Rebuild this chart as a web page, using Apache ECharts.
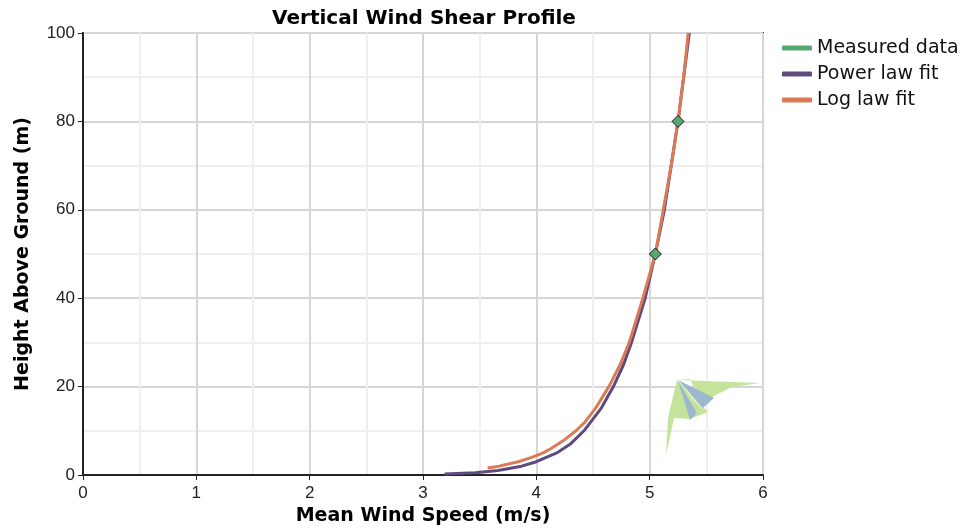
<!DOCTYPE html>
<html>
<head>
<meta charset="utf-8">
<script src="https://cdn.jsdelivr.net/npm/echarts@6/dist/echarts.min.js"></script>
<style>
html, body { margin: 0; padding: 0; background: #fff; }
#chart1 { width: 962px; height: 528px; }
</style>
</head>
<body>
<div id="chart1"></div>
<script>
// speeds in m/s, heights in m
var measuredSpeed = [5.05, 5.25];
var measuredHeight = [50, 80];

var powerHeight = [0.2, 0.5, 1, 2, 3, 5, 7, 10, 15, 20, 25, 30, 40, 50, 60, 70, 80, 90, 100];
var powerSpeed = [3.19, 3.46, 3.66, 3.87, 4.00, 4.18, 4.30, 4.42, 4.57, 4.68, 4.77, 4.84, 4.96, 5.05, 5.13, 5.19, 5.25, 5.30, 5.35];

var logHeight = [1.6, 2, 3, 4, 5, 6, 8, 10, 12, 15, 20, 25, 30, 40, 50, 60, 70, 80, 90, 100];
var logSpeed = [3.57, 3.67, 3.84, 3.96, 4.06, 4.13, 4.25, 4.35, 4.43, 4.52, 4.64, 4.74, 4.82, 4.94, 5.05, 5.12, 5.19, 5.25, 5.30, 5.34];

var seriesNames = ["Measured data", "Power law fit", "Log law fit"];
var seriesColors = ["#55a86f", "#5e4a7c", "#dd7a56"];

//拼成 [x, y] 点
function toPoints(xs, ys) {
	var arr = [];
	for (let i = 0; i < xs.length; i++) {
		arr.push([xs[i], ys[i]]);
	}
	return arr;
}

var chart = echarts.init(document.getElementById("chart1"));

var axisText = { fontFamily: "Liberation Sans", fontSize: 17, color: "#222" };
var nameText = { fontFamily: "DejaVu Sans", fontWeight: "bold", fontSize: 19, color: "#000" };

//图例：全部画成短横线，不带边框
var legendData = [];
for (let i = 0; i < seriesNames.length; i++) {
	legendData.push({
		name: seriesNames[i],
		itemStyle: { color: seriesColors[i], borderWidth: 0 }
	});
}

var option = {
	animation: false,
	color: seriesColors,
	title: {
		text: "Vertical Wind Shear Profile",
		left: 419,
		textAlign: "center",
		top: 4,
		textStyle: { fontFamily: "DejaVu Sans", fontWeight: "bold", fontSize: 20, color: "#000" }
	},
	legend: {
		orient: "vertical",
		left: 777,
		top: 33,
		icon: "roundRect",
		itemWidth: 30,
		itemHeight: 5,
		itemGap: 6,
		data: legendData,
		textStyle: { fontFamily: "DejaVu Sans", fontSize: 19, lineHeight: 20, color: "#111" }
	},
	grid: {
		left: 83,
		right: 199,
		top: 33,
		bottom: 53,
		outerBoundsMode: "none",
		show: true,
		borderColor: "#222",
		borderWidth: 2
	},
	xAxis: {
		type: "value",
		min: 0,
		max: 6,
		interval: 1,
		name: "Mean Wind Speed (m/s)",
		nameLocation: "middle",
		nameGap: 31,
		nameTextStyle: nameText,
		axisLine: { lineStyle: { color: "#222", width: 2 } },
		axisTick: { length: 5, lineStyle: { color: "#222" } },
		axisLabel: Object.assign({ margin: 10 }, axisText),
		splitLine: { lineStyle: { color: "#d6d6d6", width: 2 } },
		minorTick: { show: false, splitNumber: 2 },
		minorSplitLine: { show: true, lineStyle: { color: "#efefef", width: 2 } }
	},
	yAxis: {
		type: "value",
		min: 0,
		max: 100,
		interval: 20,
		name: "Height Above Ground (m)",
		nameLocation: "middle",
		nameGap: 50,
		nameTextStyle: nameText,
		axisLine: { lineStyle: { color: "#222", width: 2 } },
		axisTick: { length: 5, lineStyle: { color: "#222" } },
		axisLabel: Object.assign({ margin: 8 }, axisText),
		splitLine: { lineStyle: { color: "#d6d6d6", width: 2 } },
		minorTick: { show: false, splitNumber: 2 },
		minorSplitLine: { show: true, lineStyle: { color: "#efefef", width: 2 } }
	},
	// logo in the corner, just decoration
	graphic: [
		{ type: "polygon", z: 1, shape: { points: [[677, 380], [760, 383], [732, 387], [714, 396], [702, 404], [690, 379]] }, style: { fill: "#c5e39a" } },
		{ type: "polygon", z: 1, shape: { points: [[677, 380], [708, 412], [690, 419], [674, 418], [666, 455], [668, 418]] }, style: { fill: "#c5e39a" } },
		{ type: "polygon", z: 1, shape: { points: [[678, 380], [714, 398], [703, 408]] }, style: { fill: "#9db7cf" } },
		{ type: "polygon", z: 1, shape: { points: [[678, 381], [690, 420], [697, 413]] }, style: { fill: "#9db7cf" } },
		{ type: "polygon", z: 1, shape: { points: [[681, 383], [706, 413], [693, 400]] }, style: { fill: "#e4f2cd" } }
	],
	series: [
		{
			name: seriesNames[0],
			type: "line",
			lineStyle: { width: 0 },
			symbol: "diamond",
			symbolSize: 12,
			itemStyle: { color: seriesColors[0], borderColor: "#1a1a1a", borderWidth: 1 },
			data: toPoints(measuredSpeed, measuredHeight),
			z: 5
		},
		{
			name: seriesNames[1],
			type: "line",
			showSymbol: false,
			itemStyle: { color: seriesColors[1] },
			lineStyle: { width: 3, color: seriesColors[1] },
			data: toPoints(powerSpeed, powerHeight),
			z: 3
		},
		{
			name: seriesNames[2],
			type: "line",
			showSymbol: false,
			itemStyle: { color: seriesColors[2] },
			lineStyle: { width: 3, color: seriesColors[2] },
			data: toPoints(logSpeed, logHeight),
			z: 4
		}
	]
};

chart.setOption(option);
</script>
</body>
</html>
